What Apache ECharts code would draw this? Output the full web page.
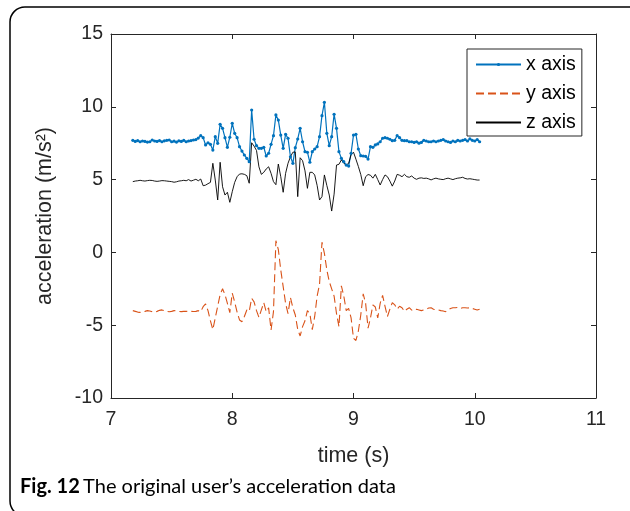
<!DOCTYPE html>
<html>
<head>
<meta charset="utf-8">
<script src="https://cdn.jsdelivr.net/npm/echarts@6/dist/echarts.min.js"></script>
<style>
html,body{margin:0;padding:0;background:#fff;}
#chart{width:630px;height:511px;}
</style>
</head>
<body>
<div id="chart"></div>
<script>
// ---- data ----
const T0 = 7.18;          // first sample time (s)
const DT = 0.02;          // sample interval (s)
const seriesNames = ['x axis', 'y axis', 'z axis'];
const xTicks = [7, 8, 9, 10, 11];
const yTicks = [-10, -5, 0, 5, 10, 15];

const accX = [
  7.70, 7.62, 7.68, 7.60, 7.65, 7.62, 7.58, 7.60, 7.72, 7.65, 7.62, 7.68, 7.60, 7.66, 7.70, 7.72, 7.60, 7.64, 7.58, 7.66, 7.62, 7.70, 7.60, 7.65, 7.68, 7.72, 7.75, 7.85,
  8.02, 7.88, 7.38, 7.53, 7.42, 7.03, 7.95, 7.49, 8.80, 8.52, 7.88, 7.22, 7.91, 8.87, 8.18, 7.88, 7.26, 6.96, 6.69, 6.46, 6.23, 9.78, 7.77, 7.33, 7.15, 7.15, 7.22, 6.62, 6.81, 7.42, 8.02, 9.44, 9.09, 8.06, 7.15, 8.11, 7.84, 6.57, 6.12, 7.19, 7.79, 8.52, 7.60, 6.92, 6.88,
  6.19, 6.92, 7.10, 7.26, 7.95, 9.39, 10.31, 8.18, 7.33, 7.95, 9.49, 8.52, 6.92, 6.46, 6.23, 6.00, 5.93, 6.81, 8.06, 8.11, 7.10, 6.64, 6.62, 6.60, 6.41, 7.26, 7.22, 7.38, 7.45, 7.60, 7.84, 7.88, 7.84, 7.77, 7.67, 7.70, 8.02, 7.88, 7.70, 7.67, 7.67, 7.60,
  7.60, 7.55, 7.60, 7.50, 7.55, 7.70, 7.65, 7.60, 7.60, 7.65, 7.60, 7.65, 7.70, 7.75, 7.65, 7.60, 7.55, 7.65, 7.60, 7.70, 7.65, 7.70, 7.75, 7.65, 7.80, 7.70, 7.65, 7.75, 7.60
];
const accY = [
  -4.00, -4.05, -4.10, -4.12, -4.08, -4.05, -4.00, -4.02, -4.08, -4.10, -4.05, -3.98, -3.95, -4.00, -4.05, -4.08, -4.05, -4.00, -4.02, -4.05, -4.07, -4.05, -4.05, -4.03, -4.05, -4.06, -4.05, -4.00,
  -4.07, -3.73, -3.54, -4.00, -4.70, -5.30, -4.50, -3.70, -2.90, -2.50, -2.90, -3.50, -4.14, -2.80, -3.40, -4.10, -4.64, -4.76, -4.40, -3.96, -4.05, -3.15, -3.40, -4.00, -4.46, -3.95, -3.45, -4.07, -3.80, -5.33, -4.07,
  0.80, 0.20, -1.20, -2.35, -3.50, -4.20, -3.10, -3.80, -4.30, -5.30, -5.74, -5.10, -4.70, -4.00, -4.20, -5.30, -4.40, -3.00, -2.20, 0.70, -0.06, -1.20, -2.00, -2.50, -3.00, -4.20, -5.10,
  -2.30, -3.00, -4.00, -3.85, -4.50, -5.90, -6.05, -5.40, -4.30, -2.85, -3.50, -5.20, -4.50, -3.60, -3.75, -4.50, -3.50, -2.95, -3.70, -4.40, -3.90, -3.45, -3.60, -3.90, -3.70, -3.80, -4.05,
  -3.90, -3.80, -3.96, -4.00, -3.90, -3.95, -4.00, -3.95, -3.90, -3.82, -3.80, -3.90, -3.95, -3.95, -4.00, -4.02, -4.07, -3.95, -3.85, -3.80, -3.80, -3.78, -3.85, -3.80, -3.80, -3.82, -3.80, -3.85, -3.90, -3.96, -3.90
];
const accZ = [
  4.86, 4.90, 4.92, 4.95, 4.92, 4.90, 4.93, 4.95, 4.94, 4.90, 4.88, 4.90, 4.93, 4.92, 4.90, 4.88, 4.86, 4.82, 4.85, 4.90, 4.92, 4.95, 4.92, 5.00, 4.90, 4.96, 5.02, 4.92,
  5.04, 4.58, 4.62, 4.72, 4.81, 6.12, 4.97, 3.60, 6.19, 4.51, 3.94, 4.13, 3.44, 4.17, 4.81, 5.20, 5.38, 5.40, 5.36, 5.27, 4.75, 7.53,
  7.30, 7.00, 5.88, 5.36, 5.50, 5.73, 5.88, 5.43, 4.86, 4.65, 6.07, 5.20, 4.13, 5.43, 6.12, 6.57, 6.88, 6.90, 3.83, 6.50, 6.30, 5.60, 4.40,
  5.50, 5.50, 5.32, 4.60, 3.60, 3.83, 5.32, 4.60, 3.94, 2.84, 4.00, 6.00, 6.05, 6.35, 6.12, 6.00, 6.12, 6.70, 6.88, 6.40, 5.90, 5.35, 4.58, 5.20,
  5.35, 5.30, 5.10, 5.36, 5.00, 4.63, 5.00, 5.32, 5.20, 4.90, 4.55, 4.90, 5.36, 5.30, 5.20, 5.36, 5.20, 5.16, 5.25, 5.10, 5.02,
  5.10, 5.12, 5.08, 5.10, 5.05, 4.98, 5.05, 5.10, 5.05, 5.02, 5.00, 5.06, 5.10, 5.05, 5.00, 5.06, 5.10, 5.12, 5.16, 5.08, 5.04, 5.06, 5.03, 5.00, 4.97, 4.97
];

// ---- build chart ----
function toPairs(arr) {
  return arr.map(function (v, i) { return [+(T0 + i * DT).toFixed(4), v]; });
}

const AX = '#262626';
const FONT = 'Liberation Sans, Arial, Helvetica, sans-serif';

const chart = echarts.init(document.getElementById('chart'), null, { renderer: 'canvas' });

const baseAxis = {
  axisLine: { show: true, onZero: false, lineStyle: { color: AX, width: 1 } },
  axisTick: { show: true, inside: true, length: 5, lineStyle: { color: AX, width: 1 } },
  splitLine: { show: false }
};

chart.setOption({
  animation: false,
  backgroundColor: '#fff',
  grid: { left: 111, top: 34, right: 34, bottom: 113, containLabel: false },
  xAxis: [
    Object.assign({}, baseAxis, {
      type: 'value', min: xTicks[0], max: xTicks[xTicks.length - 1], interval: 1,
      position: 'bottom',
      axisLabel: { color: AX, fontSize: 19.5, fontFamily: FONT, margin: 12 },
      name: 'time (s)', nameLocation: 'middle', nameGap: 47,
      nameTextStyle: { color: AX, fontSize: 21.5, fontFamily: FONT }
    }),
    Object.assign({}, baseAxis, {
      type: 'value', min: xTicks[0], max: xTicks[xTicks.length - 1], interval: 1,
      position: 'top', axisLabel: { show: false }
    })
  ],
  yAxis: [
    Object.assign({}, baseAxis, {
      type: 'value', min: yTicks[0], max: yTicks[yTicks.length - 1], interval: 5,
      position: 'left',
      axisLabel: { color: AX, fontSize: 19.5, fontFamily: FONT, margin: 8 },
      name: 'acceleration (m/s\u00B2)', nameLocation: 'middle', nameGap: 55, nameRotate: 90,
      nameTextStyle: { color: AX, fontSize: 21.5, fontFamily: FONT }
    }),
    Object.assign({}, baseAxis, {
      type: 'value', min: yTicks[0], max: yTicks[yTicks.length - 1], interval: 5,
      position: 'right', axisLabel: { show: false }
    })
  ],
  legend: {
    orient: 'vertical', left: 467, top: 49,
    padding: [5.5, 6, 3.5, 8],
    itemGap: 9, itemWidth: 45, itemHeight: 4,
    backgroundColor: '#fff', borderColor: AX, borderWidth: 1,
    textStyle: { color: '#000', fontSize: 19.5, fontFamily: FONT, lineHeight: 19 },
    data: [
      { name: seriesNames[0] },
      { name: seriesNames[1], itemStyle: { opacity: 0 } },
      { name: seriesNames[2], itemStyle: { opacity: 0 } }
    ]
  },
  series: [
    {
      name: seriesNames[0], type: 'line', xAxisIndex: 0, yAxisIndex: 0,
      data: toPairs(accX),
      symbol: 'circle', symbolSize: 3.2, showSymbol: true,
      itemStyle: { color: '#0072BD' },
      lineStyle: { color: '#0072BD', width: 1.2 }
    },
    {
      name: seriesNames[1], type: 'line', xAxisIndex: 0, yAxisIndex: 0,
      data: toPairs(accY),
      symbol: 'none',
      itemStyle: { color: '#D95319' },
      lineStyle: { color: '#D95319', width: 1.1, type: [8, 4] }
    },
    {
      name: seriesNames[2], type: 'line', xAxisIndex: 0, yAxisIndex: 0,
      data: toPairs(accZ),
      symbol: 'none',
      itemStyle: { color: '#000000' },
      lineStyle: { color: '#000000', width: 0.9 }
    }
  ],
  graphic: [
    {
      type: 'rect', silent: true, z: -10,
      shape: { x: 10, y: 7, width: 640, height: 509, r: 15 },
      style: { fill: 'none', stroke: '#000', lineWidth: 1.5 }
    },
    {
      type: 'text', left: 20, top: 477, silent: true,
      style: {
        text: '{b|Fig. 12} {n|The original user\u2019s acceleration data}',
        rich: {
          b: { fontFamily: 'Lato, Roboto, sans-serif', fontWeight: 'bold', fontSize: 20, fill: '#000' },
          n: { fontFamily: 'Lato, Roboto, sans-serif', fontSize: 20, fill: '#000' }
        }
      }
    }
  ]
});
</script>
</body>
</html>
